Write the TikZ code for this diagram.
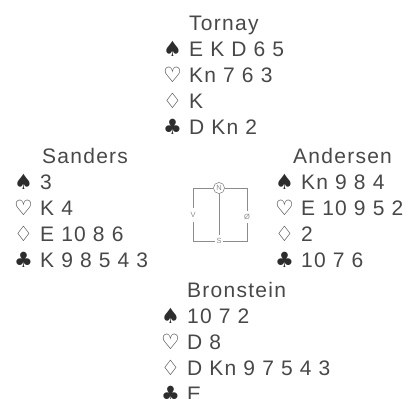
\documentclass[tikz,border=0pt]{standalone}
\usepackage{fontspec}
\setmainfont{Liberation Sans}[LetterSpace=6.0]
\newfontfamily\suitfont{DejaVu Sans}
\definecolor{inkgray}{RGB}{72,72,72}
\definecolor{suitink}{RGB}{45,45,45}
\definecolor{linegray}{RGB}{140,140,140}
\newcommand{\sym}[1]{\makebox[26pt][l]{\suitfont\color{suitink}#1}}
\tikzset{
  hand/.style={anchor=base west, inner sep=0pt, align=left, text=inkgray,
    font=\fontsize{21}{26}\selectfont},
  compass/.style={inner sep=1.5pt, text=linegray, font=\fontsize{7.5}{7.5}\selectfont},
  frame/.style={draw=linegray, line width=0.6pt}
}
\begin{document}
\begin{tikzpicture}[x=1pt, y=-1pt]
\fill[white] (0,0) rectangle (410,399);
\useasboundingbox (0,0) rectangle (410,399);
\clip (0,0) rectangle (410,399);

% hands (placed by the baseline of their last line)
\node[hand] (north) at (163,134) {\hspace*{26pt}Tornay\\
  \sym{♠}E K D 6 5\\ \sym{♡}Kn 7 6 3\\ \sym{♢}K\\ \sym{♣}D Kn 2};
\node[hand] (west) at (14,267) {\hspace*{28pt}Sanders\\
  \sym{♠}3\\ \sym{♡}K 4\\ \sym{♢}E 10 8 6\\ \sym{♣}K 9 8 5 4 3};
\node[hand] (east) at (275,267) {\hspace*{18pt}Andersen\\
  \sym{♠}Kn 9 8 4\\ \sym{♡}E 10 9 5 2\\ \sym{♢}2\\ \sym{♣}10 7 6};
\node[hand] (south) at (161,401) {\hspace*{26pt}Bronstein\\
  \sym{♠}10 7 2\\ \sym{♡}D 8\\ \sym{♢}D Kn 9 7 5 4 3\\ \sym{♣}E};

% compass
\coordinate (nw) at (193,188);
\coordinate (ne) at (247,188);
\coordinate (sw) at (193,241);
\coordinate (se) at (247,241);
\node[compass, draw=linegray, circle, inner sep=1.3pt, line width=0.6pt] (N) at (219,188) {N};
\node[compass] (S) at (219,241) {S};
\node[compass, inner sep=4pt] (V) at (193,215) {V};
\node[compass, inner sep=3pt] (O) at (247,217) {Ø};
\coordinate (stem) at (219,235);

\draw[frame] (N.west) -- (nw) -- (V.north);
\draw[frame] (V.south) -- (sw) -- (S.west);
\draw[frame] (S.east) -- (se) -- (O.south);
\draw[frame] (O.north) -- (ne) -- (N.east);
\draw[frame] (N.south) -- (stem);
\end{tikzpicture}
\end{document}
